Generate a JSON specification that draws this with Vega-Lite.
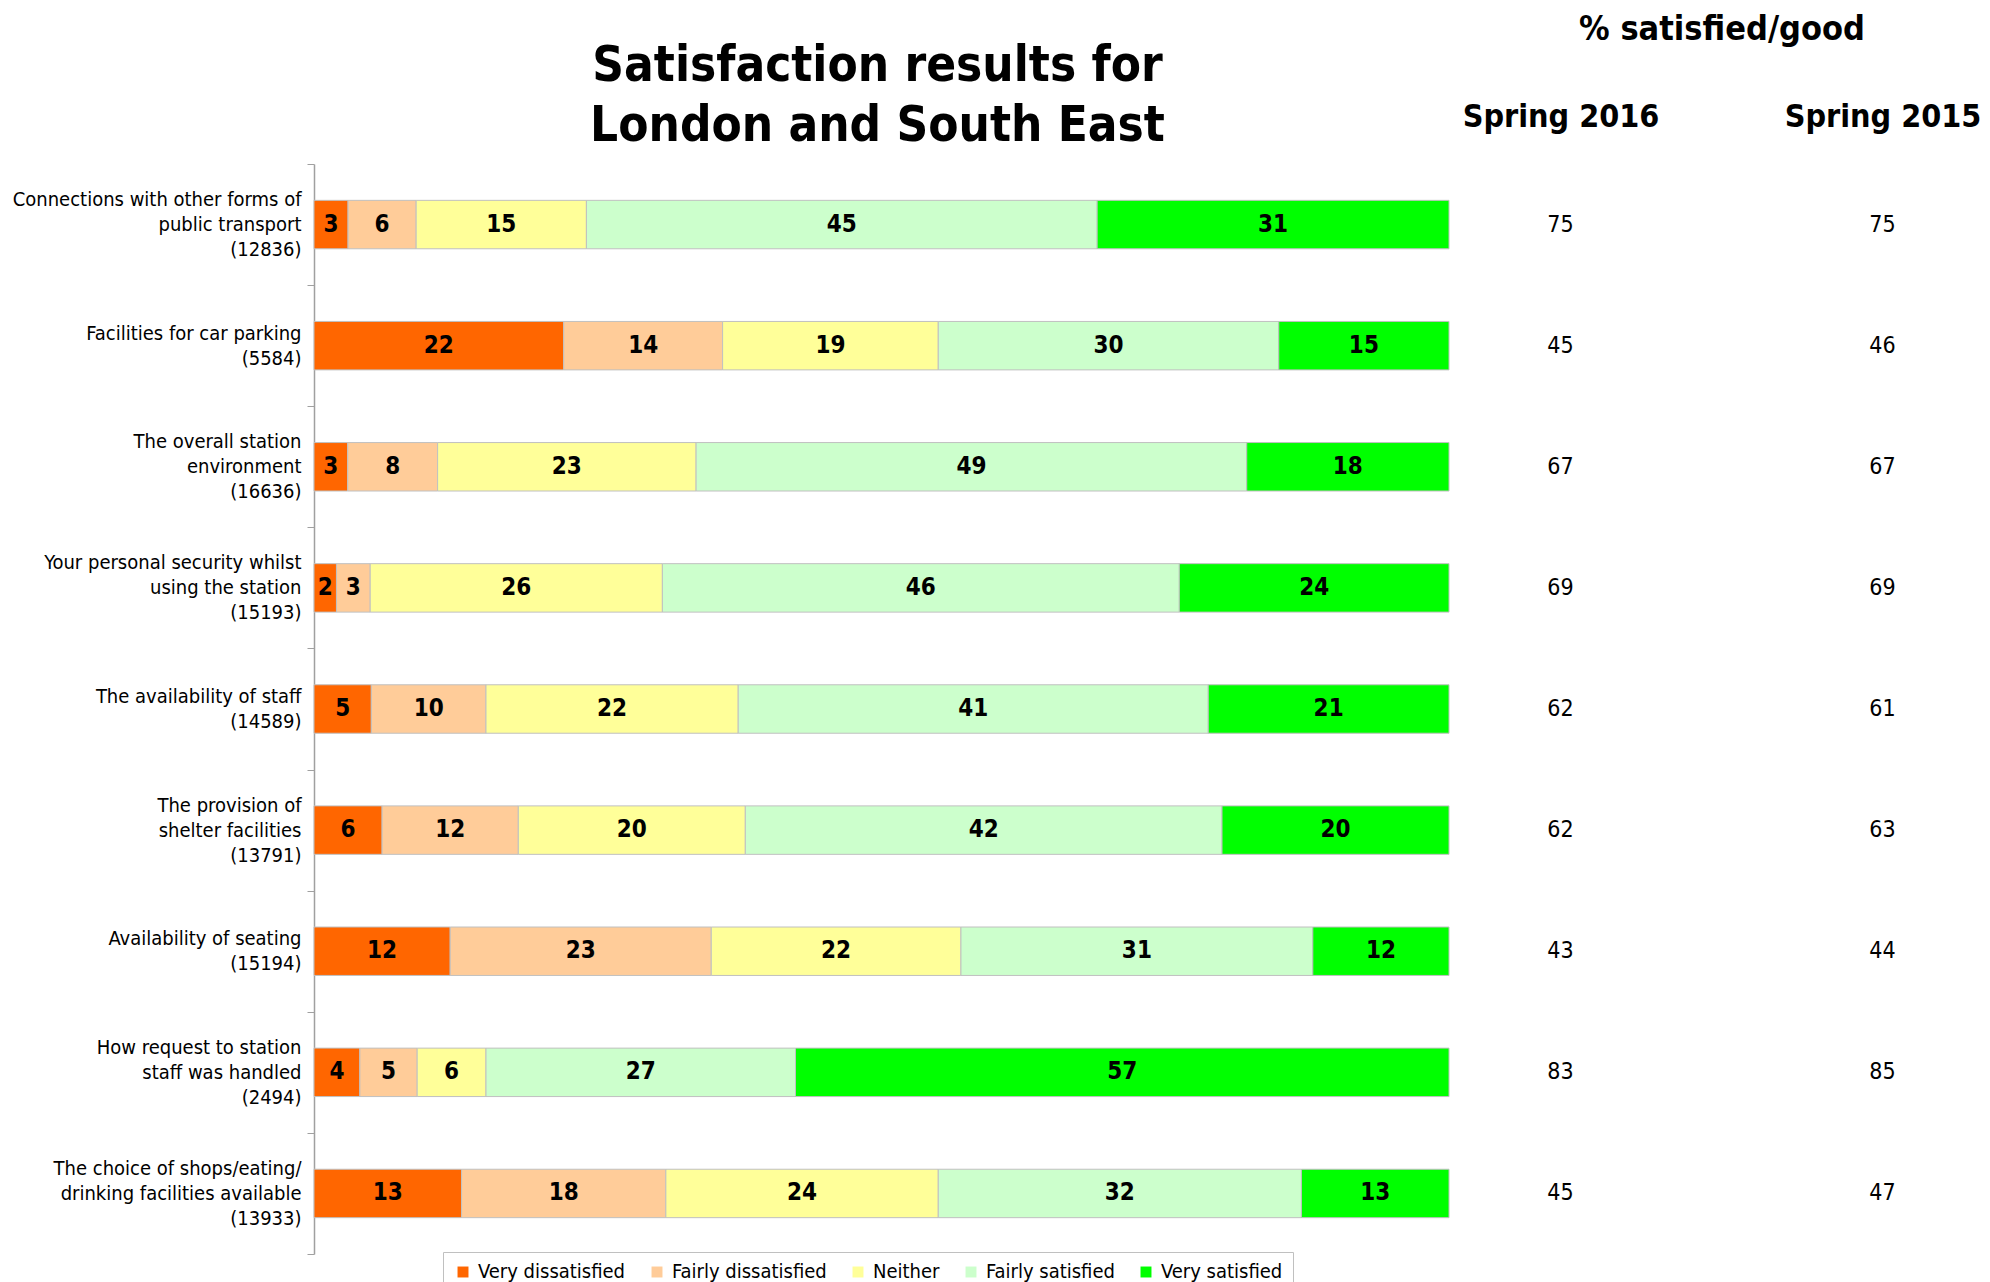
{
  "$schema": "https://vega.github.io/schema/vega-lite/v6.json",
  "background": "white",
  "padding": {"left": 0, "top": 12, "right": 0, "bottom": 0},
  "bounds": "flush",
  "spacing": 31,
  "config": {
    "view": {"stroke": null},
    "font": "DejaVu Sans Condensed, DejaVu Sans",
    "text": {"color": "black"}
  },
  "datasets": {
    "bars": [
      {"q": "Connections with other forms of|public transport|(12836)", "qi": 1, "cat": "Very dissatisfied", "ci": 1, "pct": 3},
      {"q": "Connections with other forms of|public transport|(12836)", "qi": 1, "cat": "Fairly dissatisfied", "ci": 2, "pct": 6},
      {"q": "Connections with other forms of|public transport|(12836)", "qi": 1, "cat": "Neither", "ci": 3, "pct": 15},
      {"q": "Connections with other forms of|public transport|(12836)", "qi": 1, "cat": "Fairly satisfied", "ci": 4, "pct": 45},
      {"q": "Connections with other forms of|public transport|(12836)", "qi": 1, "cat": "Very satisfied", "ci": 5, "pct": 31},
      {"q": "Facilities for car parking|(5584)", "qi": 2, "cat": "Very dissatisfied", "ci": 1, "pct": 22},
      {"q": "Facilities for car parking|(5584)", "qi": 2, "cat": "Fairly dissatisfied", "ci": 2, "pct": 14},
      {"q": "Facilities for car parking|(5584)", "qi": 2, "cat": "Neither", "ci": 3, "pct": 19},
      {"q": "Facilities for car parking|(5584)", "qi": 2, "cat": "Fairly satisfied", "ci": 4, "pct": 30},
      {"q": "Facilities for car parking|(5584)", "qi": 2, "cat": "Very satisfied", "ci": 5, "pct": 15},
      {"q": "The overall station|environment|(16636)", "qi": 3, "cat": "Very dissatisfied", "ci": 1, "pct": 3},
      {"q": "The overall station|environment|(16636)", "qi": 3, "cat": "Fairly dissatisfied", "ci": 2, "pct": 8},
      {"q": "The overall station|environment|(16636)", "qi": 3, "cat": "Neither", "ci": 3, "pct": 23},
      {"q": "The overall station|environment|(16636)", "qi": 3, "cat": "Fairly satisfied", "ci": 4, "pct": 49},
      {"q": "The overall station|environment|(16636)", "qi": 3, "cat": "Very satisfied", "ci": 5, "pct": 18},
      {"q": "Your personal security whilst|using the station|(15193)", "qi": 4, "cat": "Very dissatisfied", "ci": 1, "pct": 2},
      {"q": "Your personal security whilst|using the station|(15193)", "qi": 4, "cat": "Fairly dissatisfied", "ci": 2, "pct": 3},
      {"q": "Your personal security whilst|using the station|(15193)", "qi": 4, "cat": "Neither", "ci": 3, "pct": 26},
      {"q": "Your personal security whilst|using the station|(15193)", "qi": 4, "cat": "Fairly satisfied", "ci": 4, "pct": 46},
      {"q": "Your personal security whilst|using the station|(15193)", "qi": 4, "cat": "Very satisfied", "ci": 5, "pct": 24},
      {"q": "The availability of staff|(14589)", "qi": 5, "cat": "Very dissatisfied", "ci": 1, "pct": 5},
      {"q": "The availability of staff|(14589)", "qi": 5, "cat": "Fairly dissatisfied", "ci": 2, "pct": 10},
      {"q": "The availability of staff|(14589)", "qi": 5, "cat": "Neither", "ci": 3, "pct": 22},
      {"q": "The availability of staff|(14589)", "qi": 5, "cat": "Fairly satisfied", "ci": 4, "pct": 41},
      {"q": "The availability of staff|(14589)", "qi": 5, "cat": "Very satisfied", "ci": 5, "pct": 21},
      {"q": "The provision of|shelter facilities|(13791)", "qi": 6, "cat": "Very dissatisfied", "ci": 1, "pct": 6},
      {"q": "The provision of|shelter facilities|(13791)", "qi": 6, "cat": "Fairly dissatisfied", "ci": 2, "pct": 12},
      {"q": "The provision of|shelter facilities|(13791)", "qi": 6, "cat": "Neither", "ci": 3, "pct": 20},
      {"q": "The provision of|shelter facilities|(13791)", "qi": 6, "cat": "Fairly satisfied", "ci": 4, "pct": 42},
      {"q": "The provision of|shelter facilities|(13791)", "qi": 6, "cat": "Very satisfied", "ci": 5, "pct": 20},
      {"q": "Availability of seating|(15194)", "qi": 7, "cat": "Very dissatisfied", "ci": 1, "pct": 12},
      {"q": "Availability of seating|(15194)", "qi": 7, "cat": "Fairly dissatisfied", "ci": 2, "pct": 23},
      {"q": "Availability of seating|(15194)", "qi": 7, "cat": "Neither", "ci": 3, "pct": 22},
      {"q": "Availability of seating|(15194)", "qi": 7, "cat": "Fairly satisfied", "ci": 4, "pct": 31},
      {"q": "Availability of seating|(15194)", "qi": 7, "cat": "Very satisfied", "ci": 5, "pct": 12},
      {"q": "How request to station|staff was handled|(2494)", "qi": 8, "cat": "Very dissatisfied", "ci": 1, "pct": 4},
      {"q": "How request to station|staff was handled|(2494)", "qi": 8, "cat": "Fairly dissatisfied", "ci": 2, "pct": 5},
      {"q": "How request to station|staff was handled|(2494)", "qi": 8, "cat": "Neither", "ci": 3, "pct": 6},
      {"q": "How request to station|staff was handled|(2494)", "qi": 8, "cat": "Fairly satisfied", "ci": 4, "pct": 27},
      {"q": "How request to station|staff was handled|(2494)", "qi": 8, "cat": "Very satisfied", "ci": 5, "pct": 57},
      {"q": "The choice of shops/eating/|drinking facilities available|(13933)", "qi": 9, "cat": "Very dissatisfied", "ci": 1, "pct": 13},
      {"q": "The choice of shops/eating/|drinking facilities available|(13933)", "qi": 9, "cat": "Fairly dissatisfied", "ci": 2, "pct": 18},
      {"q": "The choice of shops/eating/|drinking facilities available|(13933)", "qi": 9, "cat": "Neither", "ci": 3, "pct": 24},
      {"q": "The choice of shops/eating/|drinking facilities available|(13933)", "qi": 9, "cat": "Fairly satisfied", "ci": 4, "pct": 32},
      {"q": "The choice of shops/eating/|drinking facilities available|(13933)", "qi": 9, "cat": "Very satisfied", "ci": 5, "pct": 13}
    ],
    "side": [
      {"q": "Connections with other forms of|public transport|(12836)", "qi": 1, "period": "Spring 2016", "v": 75},
      {"q": "Connections with other forms of|public transport|(12836)", "qi": 1, "period": "Spring 2015", "v": 75},
      {"q": "Facilities for car parking|(5584)", "qi": 2, "period": "Spring 2016", "v": 45},
      {"q": "Facilities for car parking|(5584)", "qi": 2, "period": "Spring 2015", "v": 46},
      {"q": "The overall station|environment|(16636)", "qi": 3, "period": "Spring 2016", "v": 67},
      {"q": "The overall station|environment|(16636)", "qi": 3, "period": "Spring 2015", "v": 67},
      {"q": "Your personal security whilst|using the station|(15193)", "qi": 4, "period": "Spring 2016", "v": 69},
      {"q": "Your personal security whilst|using the station|(15193)", "qi": 4, "period": "Spring 2015", "v": 69},
      {"q": "The availability of staff|(14589)", "qi": 5, "period": "Spring 2016", "v": 62},
      {"q": "The availability of staff|(14589)", "qi": 5, "period": "Spring 2015", "v": 61},
      {"q": "The provision of|shelter facilities|(13791)", "qi": 6, "period": "Spring 2016", "v": 62},
      {"q": "The provision of|shelter facilities|(13791)", "qi": 6, "period": "Spring 2015", "v": 63},
      {"q": "Availability of seating|(15194)", "qi": 7, "period": "Spring 2016", "v": 43},
      {"q": "Availability of seating|(15194)", "qi": 7, "period": "Spring 2015", "v": 44},
      {"q": "How request to station|staff was handled|(2494)", "qi": 8, "period": "Spring 2016", "v": 83},
      {"q": "How request to station|staff was handled|(2494)", "qi": 8, "period": "Spring 2015", "v": 85},
      {"q": "The choice of shops/eating/|drinking facilities available|(13933)", "qi": 9, "period": "Spring 2016", "v": 45},
      {"q": "The choice of shops/eating/|drinking facilities available|(13933)", "qi": 9, "period": "Spring 2015", "v": 47}
    ]
  },
  "hconcat": [
    {
      "width": 1135,
      "height": 1090,
      "title": {
        "text": ["Satisfaction results for", "London and South East"],
        "font": "DejaVu Sans Condensed, DejaVu Sans",
        "fontSize": 49,
        "fontWeight": "bold",
        "lineHeight": 60,
        "color": "black",
        "anchor": "middle",
        "frame": "group",
        "baseline": "bottom",
        "offset": -46,
        "dx": -4
      },
      "data": {"name": "bars"},
      "transform": [
        {"stack": "pct", "groupby": ["q"], "sort": [{"field": "ci", "order": "ascending"}], "offset": "normalize", "as": ["p0", "p1"]}
      ],
      "encoding": {
        "y": {
          "field": "q",
          "type": "nominal",
          "sort": {"field": "qi", "op": "min", "order": "ascending"},
          "scale": {"paddingInner": 0, "paddingOuter": 0},
          "title": null,
          "axis": {
            "orient": "left",
            "labelExpr": "datum.value ? split(datum.value, '|') : ''",
            "labelFontSize": 20,
            "labelLineHeight": 25,
            "labelLimit": 400,
            "labelPadding": 6,
            "labelColor": "black",
            "labelBaseline": "middle",
            "labelAlign": "right",
            "labelOffset": {"condition": {"test": "datum.value && length(split(datum.value, '|')) == 3", "value": -25}, "value": -12.5},
            "tickBand": "extent",
            "tickSize": 7,
            "tickColor": "#a0a0a0",
            "domainColor": "#a0a0a0",
            "domainWidth": 1.5,
            "minExtent": 314,
            "maxExtent": 314,
            "grid": false
          }
        }
      },
      "layer": [
        {
          "mark": {"type": "bar", "height": {"band": 0.4}, "stroke": "#c0c0c0", "strokeWidth": 1},
          "encoding": {
            "x": {"field": "p0", "type": "quantitative", "scale": {"domain": [0, 1], "nice": false}, "axis": null},
            "x2": {"field": "p1"},
            "color": {
              "field": "cat",
              "type": "nominal",
              "scale": {
                "domain": ["Very dissatisfied", "Fairly dissatisfied", "Neither", "Fairly satisfied", "Very satisfied"],
                "range": ["#FF6600", "#FFCC99", "#FFFF99", "#CCFFCC", "#00FF00"]
              },
              "legend": {
                "orient": "none",
                "legendX": 129,
                "legendY": 1088,
                "direction": "horizontal",
                "title": null,
                "symbolType": "square",
                "symbolSize": 120,
                "symbolStrokeWidth": 0,
                "labelFontSize": 20,
                "labelColor": "black",
                "labelOffset": 5,
                "columnPadding": 21,
                "padding": 10,
                "strokeColor": "#c0c0c0",
                "fillColor": "white"
              }
            }
          }
        },
        {
          "transform": [
            {"fold": ["p0", "p1"], "as": ["edge", "pv"]},
            {"aggregate": [{"op": "mean", "field": "pv", "as": "pm"}], "groupby": ["q", "qi", "cat", "pct"]}
          ],
          "mark": {"type": "text", "fontWeight": "bold", "fontSize": 24, "baseline": "middle", "align": "center", "color": "black"},
          "encoding": {
            "x": {"field": "pm", "type": "quantitative"},
            "text": {"field": "pct", "type": "quantitative"}
          }
        }
      ]
    },
    {
      "width": 483,
      "height": 1090,
      "data": {"name": "side"},
      "mark": {"type": "text", "fontSize": 23, "baseline": "middle", "align": "center", "color": "black"},
      "encoding": {
        "y": {
          "field": "q",
          "type": "nominal",
          "sort": {"field": "qi", "op": "min", "order": "ascending"},
          "scale": {"paddingInner": 0, "paddingOuter": 0},
          "axis": null
        },
        "x": {
          "field": "period",
          "type": "nominal",
          "sort": ["Spring 2016", "Spring 2015"],
          "scale": {"type": "point", "padding": 0.25},
          "axis": {
            "orient": "top",
            "title": "% satisfied/good",
            "titleFontSize": 34,
            "titleFontWeight": "bold",
            "titleColor": "black",
            "titleY": -135,
            "titleBaseline": "middle",
            "labelFontSize": 32,
            "labelFontWeight": "bold",
            "labelColor": "black",
            "labelAngle": 0,
            "labelPadding": 31,
            "labelLimit": 400,
            "ticks": false,
            "tickSize": 0,
            "domain": false,
            "grid": false
          }
        },
        "text": {"field": "v", "type": "quantitative"}
      }
    }
  ]
}
